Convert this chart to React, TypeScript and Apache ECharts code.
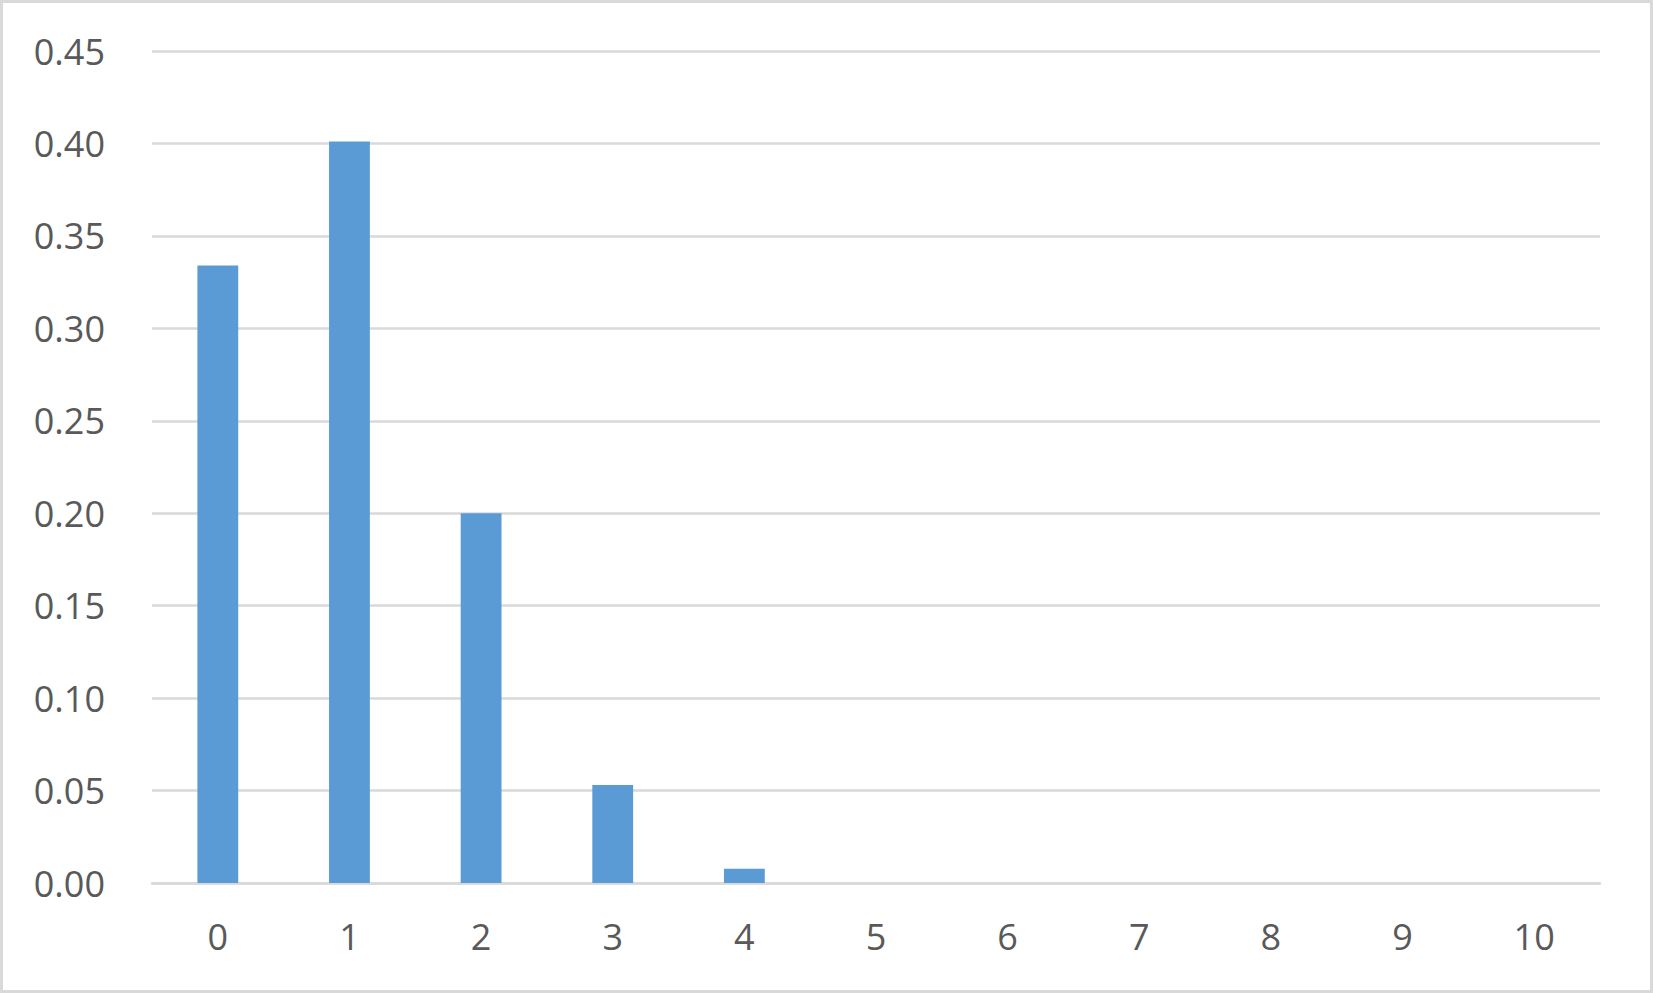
import React, { useEffect, useRef } from 'react';
import * as echarts from 'echarts';

// Categories (number of successes) and probabilities
const categories = ['0', '1', '2', '3', '4', '5', '6', '7', '8', '9', '10'];
const probabilities = [0.334, 0.401, 0.2, 0.053, 0.0077, 0, 0, 0, 0, 0, 0];

const App: React.FC = () => {
  const chartRef = useRef<HTMLDivElement>(null);

  useEffect(() => {
    document.body.style.margin = '0';
    if (!chartRef.current) return;

    const chart = echarts.init(chartRef.current, undefined, { renderer: 'svg' });

    const option = {
      animation: false,
      backgroundColor: '#fff',
      grid: {
        left: 149,
        right: 50,
        top: 48,
        bottom: 107,
        containLabel: false
      },
      xAxis: {
        type: 'category',
        data: categories,
        axisLine: { show: true, lineStyle: { color: '#d9d9d9', width: 2.5 } },
        axisTick: { show: false },
        axisLabel: {
          color: '#595959',
          fontFamily: 'Open Sans',
          fontSize: 36,
          margin: 35
        }
      },
      yAxis: {
        type: 'value',
        min: 0,
        max: 0.45,
        interval: 0.05,
        axisLine: { show: false },
        axisTick: { show: false },
        axisLabel: {
          color: '#595959',
          fontFamily: 'Open Sans',
          fontSize: 36,
          margin: 47,
          formatter: (v: number) => v.toFixed(2)
        },
        splitLine: { lineStyle: { color: '#d9d9d9', width: 2.5 } }
      },
      series: [
        {
          type: 'bar',
          data: probabilities,
          barWidth: '31%',
          itemStyle: { color: '#5b9bd5' }
        }
      ]
    };

    chart.setOption(option);

    return () => {
      chart.dispose();
    };
  }, []);

  return (
    <div
      style={{
        position: 'absolute',
        left: 0,
        top: 0,
        width: 1653,
        height: 993,
        boxSizing: 'border-box',
        border: '3px solid #d9d9d9',
        background: '#fff'
      }}
    >
      <div ref={chartRef} style={{ width: 1647, height: 987 }} />
    </div>
  );
};

export default App;
